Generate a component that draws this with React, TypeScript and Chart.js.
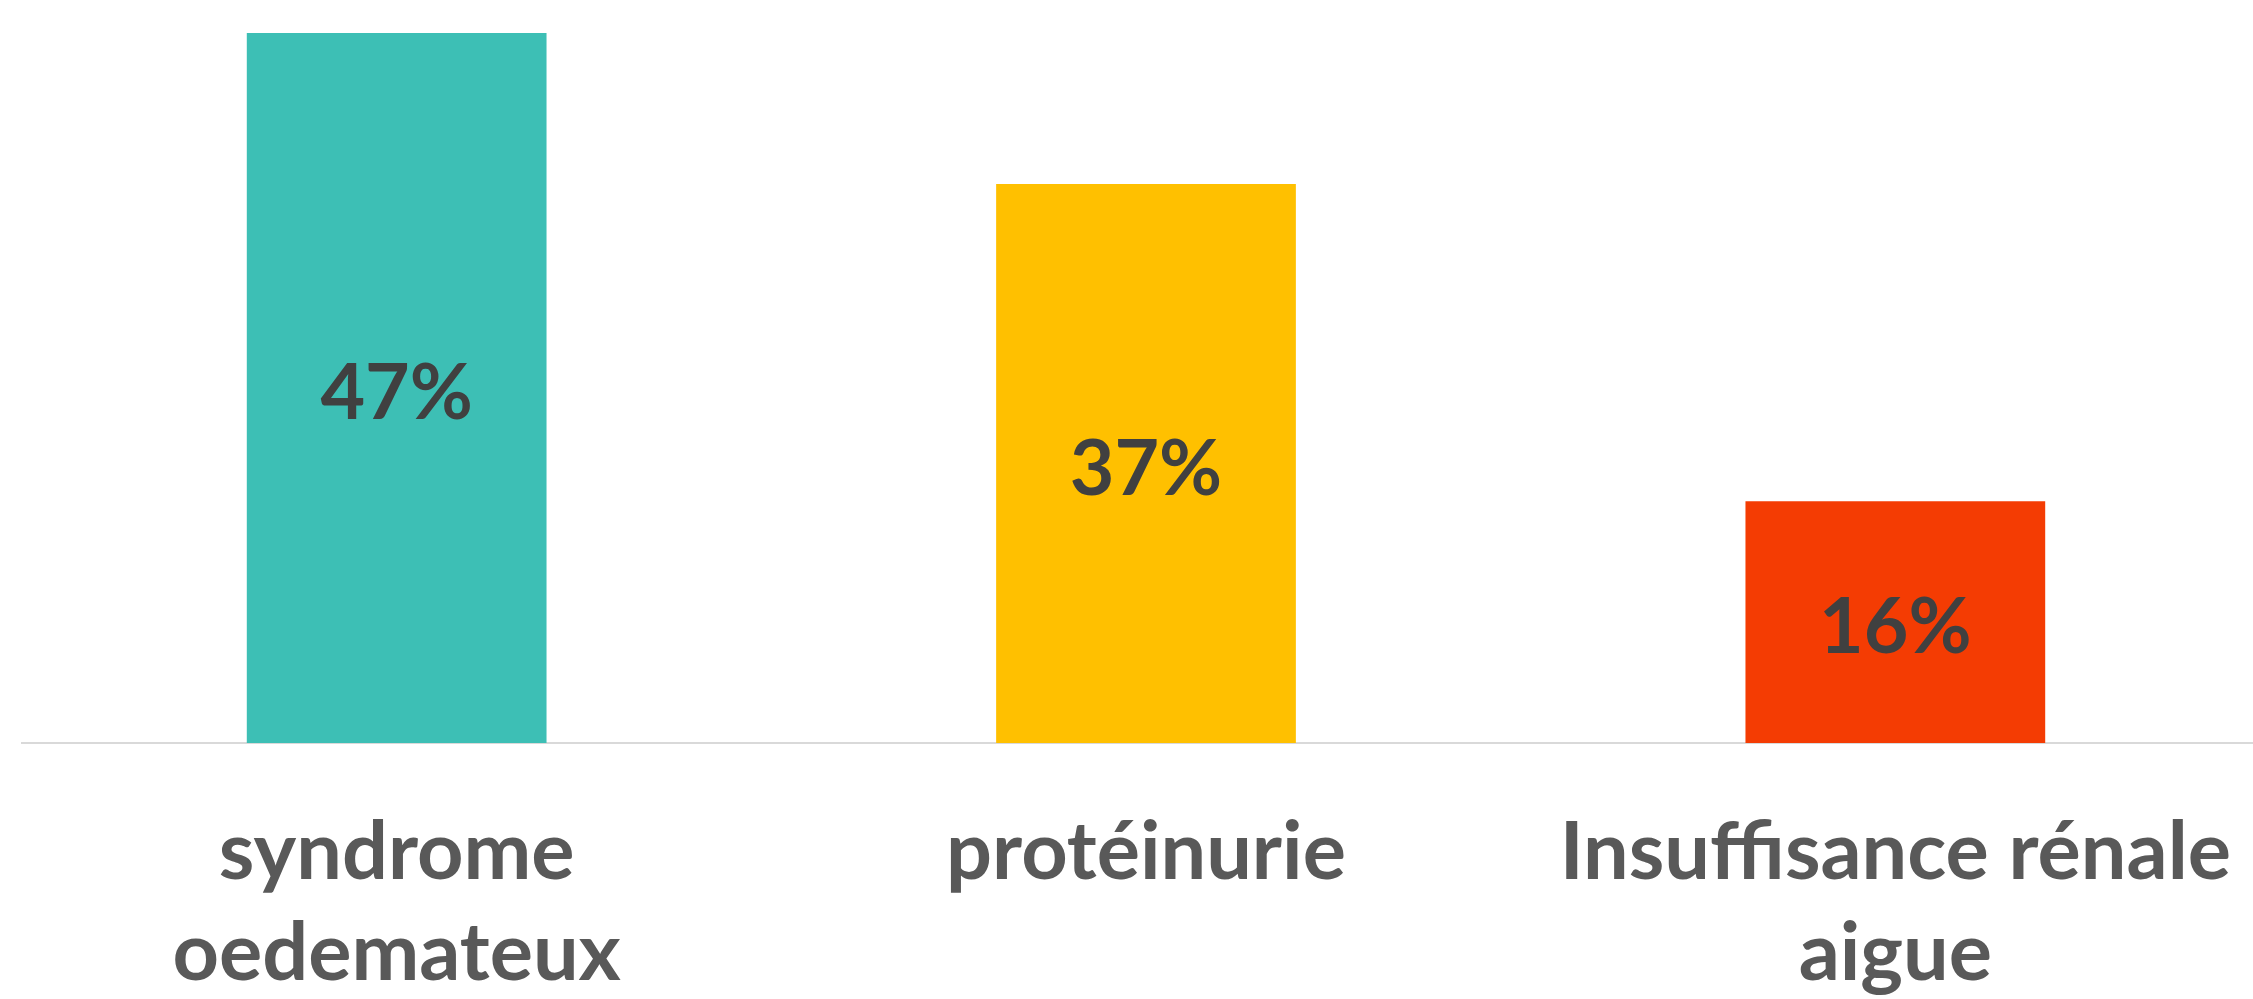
import React, { useEffect, useRef } from "react";
import { Chart, registerables } from "chart.js";

Chart.register(...registerables);

const categories: string[][] = [["syndrome", "oedemateux"], ["protéinurie"], ["Insuffisance rénale", "aigue"]];
const values: number[] = [47, 37, 16];
const valueLabels: string[] = ["47%", "37%", "16%"];
const barColors: string[] = ["#3DBFB5", "#FFC000", "#F43C03"];

const FONT = "Lato, 'Open Sans', sans-serif";

const centerLabels = {
  id: "centerLabels",
  afterDatasetsDraw(chart: any) {
    const ctx = chart.ctx;
    const meta = chart.getDatasetMeta(0);
    ctx.save();
    ctx.fillStyle = "#404040";
    ctx.font = `bold 77px ${FONT}`;
    ctx.textAlign = "center";
    ctx.textBaseline = "alphabetic";
    meta.data.forEach((bar: any, i: number) => {
      const cy = (bar.y + bar.base) / 2;
      ctx.fillText(valueLabels[i], bar.x, cy + 31);
    });
    ctx.restore();
  },
};

export default function App() {
  const ref = useRef<HTMLCanvasElement | null>(null);
  useEffect(() => {
    document.body.style.margin = "0";
    document.body.style.overflow = "hidden";
    if (!ref.current) return;
    const chart = new Chart(ref.current, {
      type: "bar",
      data: {
        labels: categories,
        datasets: [
          {
            data: values,
            backgroundColor: barColors,
            barPercentage: 0.4,
            categoryPercentage: 1,
          },
        ],
      },
      options: {
        animation: false,
        responsive: false,
        maintainAspectRatio: false,
        layout: { padding: { left: 22, top: 33, right: 0, bottom: 0 } },
        plugins: { legend: { display: false }, tooltip: { enabled: false } },
        scales: {
          x: {
            grid: { display: false },
            border: { display: true, color: "#D9D9D9", width: 2 },
            ticks: {
              color: "#595959",
              font: { family: FONT, size: 81, weight: "bold", lineHeight: 101 / 81 },
              padding: 51,
              maxRotation: 0,
              autoSkip: false,
            },
            afterFit: (scale: any) => {
              scale.height = 256;
              scale.paddingLeft = 0;
              scale.paddingRight = 0;
            },
          },
          y: {
            display: false,
            min: 0,
            max: 47,
          },
        },
      },
      plugins: [centerLabels],
    });
    return () => chart.destroy();
  }, []);
  return (
    <div style={{ position: "fixed", left: 0, top: 0, width: 2270, height: 999 }}>
      <canvas ref={ref} width={2270} height={999} style={{ display: "block" }} />
    </div>
  );
}
